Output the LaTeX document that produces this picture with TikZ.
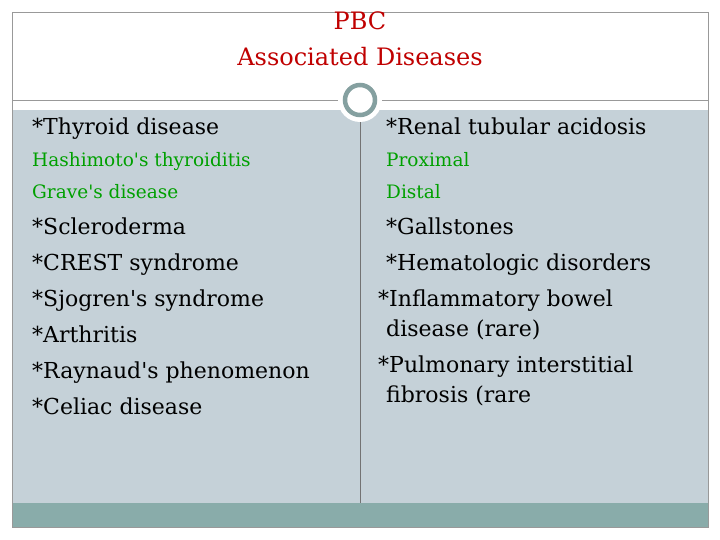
\documentclass[tikz,border=0pt]{standalone}
\usepackage{fontspec}
\setmainfont{DejaVu Serif}
\definecolor{panel}{RGB}{197,209,216}
\definecolor{bar}{RGB}{137,172,170}
\definecolor{ring}{RGB}{133,160,160}
\definecolor{ttl}{RGB}{192,0,0}
\definecolor{grn}{RGB}{0,160,0}
\newcommand{\ap}{\textquotesingle}
\begin{document}
\begin{tikzpicture}[x=1pt,y=-1pt,
 big/.style={anchor=base west,font=\fontsize{22}{26}\selectfont,inner sep=0},
 sml/.style={anchor=base west,font=\fontsize{18.5}{22}\selectfont,text=grn,inner sep=0}]
\useasboundingbox (0,0) rectangle (720,540);
\fill[white] (0,0) rectangle (720,540);
\fill[panel] (12,110) rectangle (708,503);
\fill[bar] (12,503) rectangle (708,527);
\draw[gray!80,line width=0.8] (12,12) rectangle (708,527);
\draw[gray!80,line width=0.8] (12,100) -- (708,100);
\draw[gray!90!black,line width=0.6] (360,110) -- (360,503);
\node[circle,fill=white,minimum size=44,inner sep=0] (c) at (360,100) {};
\node[circle,draw=ring,line width=4.5,fill=white,minimum size=30,inner sep=0] (ci) at (360,100) {};
\node[font=\fontsize{24}{36}\selectfont,text=ttl,align=center] (t) at (360,39) {PBC\\Associated Diseases};
\node[big] (a1) at (32,135) {*Thyroid disease};
\node[sml] (a2) at (32,167) {Hashimoto\ap s thyroiditis};
\node[sml] (a3) at (32,199) {Grave\ap s disease};
\node[big] (a4) at (32,234) {*Scleroderma};
\node[big] (a5) at (32,270) {*CREST syndrome};
\node[big] (a6) at (32,306) {*Sjogren\ap s syndrome};
\node[big] (a7) at (32,342) {*Arthritis};
\node[big] (a8) at (32,378) {*Raynaud\ap s phenomenon};
\node[big] (a9) at (32,414) {*Celiac disease};
\node[big] (b1) at (386,135) {*Renal tubular acidosis};
\node[sml] (b2) at (386,167) {Proximal};
\node[sml] (b3) at (386,199) {Distal};
\node[big] (b4) at (386,234) {*Gallstones};
\node[big] (b5) at (386,270) {*Hematologic disorders};
\node[big] (b6) at (378,306) {*Inflammatory bowel};
\node[big] (b7) at (386,336) {disease (rare)};
\node[big] (b8) at (378,372) {*Pulmonary interstitial};
\node[big] (b9) at (386,402) {fibrosis (rare};
\end{tikzpicture}
\end{document}
